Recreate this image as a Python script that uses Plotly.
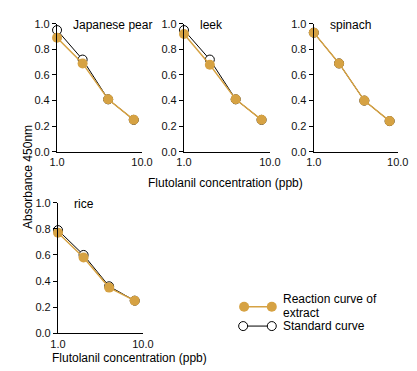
import plotly.graph_objects as go

# ---- data ----
conc = [1, 2, 4, 8]
panels = ["Japanese pear", "leek", "spinach", "rice"]
extract_vals = {
    "Japanese pear": [0.89, 0.69, 0.41, 0.25],
    "leek": [0.92, 0.68, 0.41, 0.25],
    "spinach": [0.93, 0.69, 0.40, 0.24],
    "rice": [0.77, 0.58, 0.35, 0.25],
}
standard_vals = {
    "Japanese pear": [0.95, 0.72, 0.41, 0.25],
    "leek": [0.95, 0.72, 0.41, 0.25],
    "spinach": [0.93, 0.69, 0.40, 0.24],
    "rice": [0.79, 0.60, 0.36, 0.25],
}
y_ticks = [0.0, 0.2, 0.4, 0.6, 0.8, 1.0]
x_ticks = [1, 10]
x_ticklabels = ["1.0", "10.0"]
series_names = ["Reaction curve of<br>extract", "Standard curve"]

# ---- style / layout ----
W, H = 417, 371
GOLD = "#D6A243"
FONT = "Liberation Sans, Arial, sans-serif"

def px_x(a, b):
    return [a / W, b / W]

def px_y(bottom, top):
    return [1 - bottom / H, 1 - top / H]

xdomains = [px_x(43, 132), px_x(176, 266), px_x(312, 400), px_x(44, 133)]
ydomains = [px_y(142.5, 10), px_y(142.5, 10), px_y(142.5, 10), px_y(330, 195)]

fig = go.Figure()
layout = dict(
    width=W, height=H,
    margin=dict(l=0, r=0, t=0, b=0),
    paper_bgcolor="white", plot_bgcolor="rgba(0,0,0,0)",
    showlegend=False,
    font=dict(family=FONT, size=11, color="#111"),
)
annotations = []

for i, name in enumerate(panels):
    n = "" if i == 0 else str(i + 1)
    xa, ya = "x" + n, "y" + n
    fig.add_trace(go.Scatter(
        x=conc, y=standard_vals[name], xaxis=xa, yaxis=ya,
        mode="lines+markers", cliponaxis=False,
        line=dict(color="black", width=1),
        marker=dict(size=9, color="white", line=dict(color="black", width=1)),
    ))
    fig.add_trace(go.Scatter(
        x=conc, y=extract_vals[name], xaxis=xa, yaxis=ya,
        mode="lines+markers", cliponaxis=False,
        line=dict(color=GOLD, width=1.5),
        marker=dict(size=10, color=GOLD),
    ))
    layout["xaxis" + n] = dict(
        domain=xdomains[i], type="log", range=[0, 1],
        tickvals=x_ticks, ticktext=x_ticklabels,
        ticks="inside", ticklen=4, tickcolor="black",
        showline=True, linecolor="black", linewidth=1.2,
        showgrid=False, zeroline=False, anchor=ya,
        tickfont=dict(size=11),
    )
    layout["yaxis" + n] = dict(
        domain=ydomains[i], range=[0, 1.0],
        tickvals=y_ticks, ticktext=[f"{v:.1f}" for v in y_ticks],
        ticks="outside", ticklen=4, tickcolor="black",
        showline=True, linecolor="black", linewidth=1.2,
        showgrid=False, zeroline=False, anchor=xa,
        tickfont=dict(size=11),
    )
    annotations.append(dict(
        text=name, xref=xa + " domain", yref=ya + " domain",
        x=15 / 89, y=0.99, xanchor="left", yanchor="middle",
        showarrow=False, font=dict(size=12, color="black"),
    ))

# legend samples drawn on a hidden pixel-space axis
LEG_X = [[239, 268], [238, 268]]
LEG_Y = [302.5, 322.5]
fig.add_trace(go.Scatter(
    x=LEG_X[0], y=[LEG_Y[0]] * 2, xaxis="x5", yaxis="y5",
    mode="lines+markers", cliponaxis=False,
    line=dict(color=GOLD, width=1.5), marker=dict(size=10, color=GOLD),
))
fig.add_trace(go.Scatter(
    x=LEG_X[1], y=[LEG_Y[1]] * 2, xaxis="x5", yaxis="y5",
    mode="lines+markers", cliponaxis=False,
    line=dict(color="black", width=1),
    marker=dict(size=9, color="white", line=dict(color="black", width=1)),
))
layout["xaxis5"] = dict(domain=px_x(220, 290), range=[220, 290], visible=False, anchor="y5")
layout["yaxis5"] = dict(domain=px_y(335, 290), range=[335, 290], visible=False, anchor="x5")

leg_lines = series_names[0].split("<br>")
leg_font = dict(size=12, color="black")
annotations += [
    dict(text=leg_lines[0], x=279 / W, y=1 - 294.5 / H, xref="paper", yref="paper",
         xanchor="left", yanchor="middle", showarrow=False, borderpad=0, font=leg_font),
    dict(text=leg_lines[1], x=279 / W, y=1 - 308.5 / H, xref="paper", yref="paper",
         xanchor="left", yanchor="middle", showarrow=False, borderpad=0, font=leg_font),
    dict(text=series_names[1], x=279 / W, y=1 - 322.5 / H, xref="paper", yref="paper",
         xanchor="left", yanchor="middle", showarrow=False, borderpad=0, font=leg_font),
    # axis titles
    dict(text="Flutolanil concentration (ppb)", x=219 / W, y=1 - 175 / H,
         xref="paper", yref="paper", xanchor="center", yanchor="middle",
         showarrow=False, font=dict(size=12, color="black")),
    dict(text="Flutolanil concentration (ppb)", x=119 / W, y=1 - 355 / H,
         xref="paper", yref="paper", xanchor="center", yanchor="middle",
         showarrow=False, font=dict(size=12, color="black")),
    dict(text="Absorbance 450nm", x=12 / W, y=1 - 168 / H, textangle=-90,
         xref="paper", yref="paper", xanchor="center", yanchor="middle",
         showarrow=False, font=dict(size=12, color="black")),
]
layout["annotations"] = annotations
fig.update_layout(**layout)
fig.write_html("out.html")
